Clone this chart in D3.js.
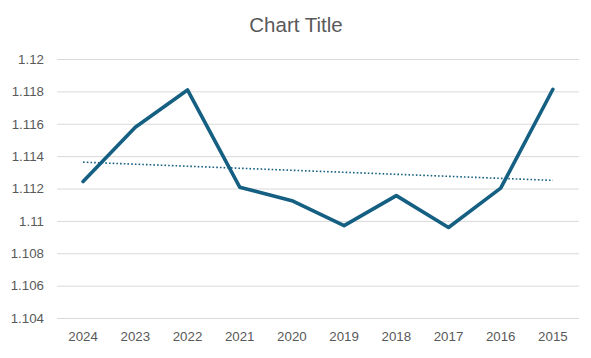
<!DOCTYPE html>
<html><head><meta charset="utf-8">
<script src="https://cdn.jsdelivr.net/npm/d3@7"></script>
<style>body{margin:0;background:#fff}svg{display:block}text{font-family:"Liberation Sans",Arial,sans-serif;fill:#595959}</style>
</head><body>
<script>
const categories = ["2024","2023","2022","2021","2020","2019","2018","2017","2016","2015"];
const values = [1.11243,1.11578,1.11809,1.11208,1.11125,1.10971,1.11156,1.10959,1.11202,1.11813];
const yTicks = [1.104,1.106,1.108,1.11,1.112,1.114,1.116,1.118,1.12];
const title = "Chart Title";

const W = 591, H = 358;
const svg = d3.select("body").append("svg").attr("width", W).attr("height", H);
const plotL = 57, plotR = 579, plotT = 59, plotB = 318;

const x = d3.scaleBand().domain(categories).range([plotL, plotR]);
const y = d3.scaleLinear().domain([1.104, 1.12]).range([plotB, plotT]);

svg.append("text").attr("x", 296).attr("y", 31.5).attr("text-anchor", "middle")
  .style("font-size", "20.5px").text(title);

const yAxis = svg.append("g").attr("transform", `translate(${plotL},0)`)
  .call(d3.axisLeft(y).tickValues(yTicks).tickSize(-(plotR - plotL)).tickPadding(13).tickFormat(d => String(+d.toFixed(3))));
yAxis.select(".domain").remove();
yAxis.selectAll("line").attr("stroke", "#d9d9d9").attr("stroke-width", 1);
yAxis.selectAll("text").style("font-size", "13.3px").attr("fill", "#595959");

const xAxis = svg.append("g").attr("transform", `translate(0,${plotB})`)
  .call(d3.axisBottom(x).tickSize(0).tickPadding(14));
xAxis.select(".domain").remove();
xAxis.selectAll("text").style("font-size", "13.3px").attr("fill", "#595959");

const cx = d => x(d) + x.bandwidth() / 2;

// linear trendline (least squares on category index)
const n = values.length;
const idx = d3.range(n);
const mx = d3.mean(idx), my = d3.mean(values);
const slope = d3.sum(idx, i => (i - mx) * (values[i] - my)) / d3.sum(idx, i => (i - mx) ** 2);
const icpt = my - slope * mx;
svg.append("path")
  .attr("d", d3.line()([[cx(categories[0]), y(icpt)], [cx(categories[n - 1]), y(icpt + slope * (n - 1))]]))
  .attr("fill", "none").attr("stroke", "#156082").attr("stroke-width", 1.6)
  .attr("stroke-dasharray", "1.6 2.1");

svg.append("path").datum(values)
  .attr("d", d3.line().x((d, i) => cx(categories[i])).y(d => y(d)))
  .attr("fill", "none").attr("stroke", "#156082").attr("stroke-width", 3.6)
  .attr("stroke-linejoin", "round").attr("stroke-linecap", "round");
</script>
</body></html>
